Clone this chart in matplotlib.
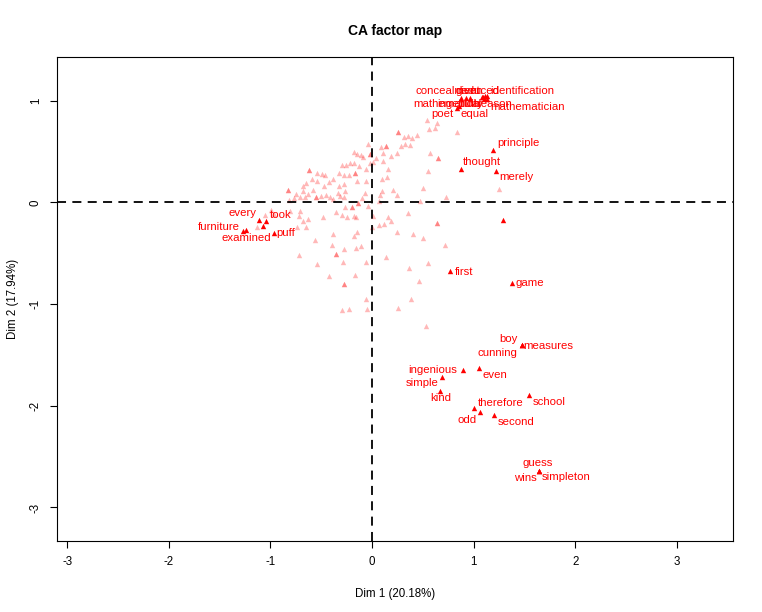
import matplotlib
matplotlib.use("Agg")
import matplotlib.pyplot as plt

plt.rcParams['font.family'] = ['Liberation Sans', 'DejaVu Sans']
plt.rcParams['axes.unicode_minus'] = False

# selected (labelled) column points: Dim 1, Dim 2
sel_labels = ["principle", "thought", "merely", "first", "game",
              "boy", "measures", "cunning", "ingenious", "even", "simple", "kind",
              "therefore", "odd", "second", "school", "guess", "wins", "simpleton",
              "every", "took", "furniture", "examined", "puff",
              "poet", "equal", "concealment", "given", "deduced", "identification",
              "mathematical", "ingenuity", "truth", "reason", "mathematician"]
sel_x = [1.19, 0.87, 1.22, 0.77, 1.38,
         1.47, 1.47, 1.47, 0.89, 1.05, 0.69, 0.67,
         1.00, 1.06, 1.20, 1.54, 1.64, 1.64, 1.64,
         -1.11, -1.04, -1.27, -1.24, -0.97,
         0.83, 0.85, 1.08, 0.92, 1.11, 1.13,
         1.10, 0.87, 0.96, 1.09, 1.13]
sel_y = [0.52, 0.33, 0.31, -0.67, -0.79,
         -1.40, -1.40, -1.40, -1.65, -1.63, -1.72, -1.85,
         -2.02, -2.06, -2.09, -1.89, -2.64, -2.64, -2.64,
         -0.17, -0.18, -0.28, -0.27, -0.30,
         0.93, 0.95, 1.04, 1.03, 1.05, 1.05,
         1.02, 1.03, 1.03, 1.04, 1.02]

# selected points whose label was dropped
extra_x = [-1.07, 1.29]
extra_y = [-0.23, -0.17]

# the other column points (drawn transparent)
other_x = [0.54, 0.64, 0.25, 0.25, 0.56, 0.62, 0.31, 0.35, 0.39, 0.44, 0.28, 0.32, 0.37,
           0.09, 0.14, 0.14, -0.04, -0.18, 0.57, 0.65, 0.65, 0.24, 0.19, 0.11, 0.04, 0.11,
           -0.02, -0.02, -0.15, -0.11, -0.09, -0.30, -0.26, -0.22, -0.18, -0.13, -0.02, 0.01,
           -0.06, 0.16, 0.55, -0.62, -0.62, -0.54, -0.49, -0.46, -0.33, -0.17, -0.17, -0.28,
           -0.23, 0.10, 0.15, -0.59, -0.54, -0.65, -0.38, -0.42, -0.47, -0.58, -0.68, -0.68,
           -0.33, -0.28, -0.27, -0.34, -0.83, -0.83, -0.15, -0.06, 0.10, 0.21, 0.24, 0.08,
           0.50, -0.75, -0.71, -0.66, -0.63, -0.55, -0.55, -0.50, -0.45, -0.41, -0.38, -0.32,
           -0.28, -0.10, -0.07, -0.82, -0.77, 0.07, 0.47, 0.73, -0.20, -0.20, -0.14, -0.14,
           -0.04, -0.99, -0.97, -0.81, -0.72, -0.71, -0.36, -0.27, -0.25, -0.30, -0.16, -0.18,
           0.01, 0.07, 0.12, 0.16, 0.19, 0.35, -0.48, -0.68, -0.63, -0.65, -0.74, 0.64, 0.64,
           0.00, -0.38, -0.18, -0.15, 0.24, 0.40, 0.50, -0.56, -0.39, -0.28, -0.16, -0.11,
           0.72, -0.72, -0.36, -0.36, 0.14, -0.54, -0.29, -0.06, 0.55, 0.36, -0.42, -0.17,
           0.46, -0.28, -0.28, -0.06, 0.38, -0.30, -0.23, 0.25, -0.05, 0.53, 0.83, 1.25,
           -1.05, -1.13]
other_y = [0.81, 0.78, 0.69, 0.69, 0.72, 0.73, 0.64, 0.65, 0.63, 0.66, 0.55, 0.57, 0.56,
           0.54, 0.55, 0.55, 0.57, 0.50, 0.49, 0.44, 0.44, 0.49, 0.46, 0.49, 0.44, 0.41,
           0.48, 0.48, 0.48, 0.47, 0.45, 0.37, 0.37, 0.39, 0.39, 0.36, 0.39, 0.40,
           0.33, 0.33, 0.31, 0.32, 0.32, 0.29, 0.28, 0.27, 0.29, 0.29, 0.29, 0.27,
           0.27, 0.23, 0.25, 0.23, 0.21, 0.19, 0.23, 0.20, 0.16, 0.12, 0.16, 0.11,
           0.16, 0.18, 0.11, 0.09, 0.12, 0.12, 0.21, 0.21, 0.11, 0.12, 0.07, 0.07,
           0.14, 0.08, 0.05, 0.05, 0.08, 0.05, 0.05, 0.06, 0.07, 0.05, 0.03, 0.06,
           0.05, 0.04, 0.09, 0.02, 0.04, 0.01, 0.01, 0.05, -0.05, -0.05, -0.01, -0.01,
           -0.04, -0.07, -0.11, -0.08, -0.13, -0.08, -0.09, -0.05, -0.14, -0.12, -0.14, -0.13,
           -0.13, -0.22, -0.21, -0.14, -0.18, -0.10, -0.14, -0.18, -0.16, -0.24, -0.24, -0.20, -0.20,
           -0.24, -0.31, -0.33, -0.29, -0.29, -0.31, -0.35, -0.37, -0.42, -0.46, -0.45, -0.43,
           -0.42, -0.52, -0.51, -0.51, -0.54, -0.61, -0.59, -0.59, -0.60, -0.65, -0.72, -0.71,
           -0.77, -0.80, -0.80, -0.95, -0.95, -1.06, -1.05, -1.04, -1.05, -1.22, 0.69, 0.13,
           -0.12, -0.24]

# label placement: offset in pixels from the point, horizontal alignment
label_pos = {
    "principle": (4, 7, "left"), "thought": (2, 7, "left"), "merely": (3, -6, "left"),
    "first": (4, -1, "left"), "game": (3, 0, "left"),
    "boy": (-4, 6, "right"), "measures": (2, -1, "left"), "cunning": (-4, -8, "right"),
    "ingenious": (-5, 0, "right"), "even": (4, -7, "left"), "simple": (-4, -6, "right"),
    "kind": (1, -7, "center"), "therefore": (4, 5, "left"), "odd": (-3, -8, "right"),
    "second": (4, -7, "left"), "school": (4, -7, "left"), "guess": (-1, 8, "center"),
    "wins": (-2, -7, "right"), "simpleton": (3, -6, "left"),
    "every": (-3, 7, "right"), "took": (3, 6, "left"), "furniture": (-3, 4, "right"),
    "examined": (0, -8, "center"), "puff": (3, 0, "left"),
    "poet": (-3, -6, "right"), "equal": (2, -8, "left"),
    "concealment": (-2, 6, "right"), "given": (4, 7, "center"), "deduced": (-7, 5, "center"),
    "identification": (3, 5, "left"), "mathematical": (-3, -5, "right"),
    "ingenuity": (0, -6, "center"), "truth": (0, -6, "center"), "reason": (12, -7, "center"),
    "mathematician": (3, -8, "left"),
}

fig = plt.figure(figsize=(7.62, 6.12), dpi=100)
ax = fig.add_axes([57 / 762, 71 / 612, 676 / 762, 484 / 612])

ax.scatter(other_x, other_y, marker="^", s=15, color="red", alpha=0.28, linewidths=0)
ax.scatter(extra_x, extra_y, marker="^", s=15, color="red", linewidths=0)
ax.scatter(sel_x, sel_y, marker="^", s=15, color="red", linewidths=0)

for lab, x, y in zip(sel_labels, sel_x, sel_y):
    dx, dy, ha = label_pos[lab]
    ax.annotate(lab, (x, y), xytext=(dx, dy), textcoords="offset pixels",
                ha=ha, va="center", color="red", fontsize=8.2)

ax.axhline(0, color="black", lw=1.3, dashes=(5, 3.5))
ax.axvline(0, color="black", lw=1.3, dashes=(5, 3.5))

ax.set_xlim(-3.10, 3.55)
ax.set_ylim(-3.33, 1.43)
ax.set_xticks([-3, -2, -1, 0, 1, 2, 3])
ax.set_yticks([-3, -2, -1, 0, 1])
ax.tick_params(direction="out", length=5, width=0.8, labelsize=8.3, pad=6,
               top=False, right=False)
for lab in ax.get_yticklabels():
    lab.set_rotation(90)
    lab.set_va("center")
for sp in ax.spines.values():
    sp.set_linewidth(0.8)

ax.set_xlabel("Dim 1 (20.18%)", fontsize=8.3, labelpad=14)
ax.set_ylabel("Dim 2 (17.94%)", fontsize=8.3, labelpad=8)
ax.set_title("CA factor map", fontsize=10, fontweight="bold", pad=16)

fig.savefig("out.png", dpi=100)
